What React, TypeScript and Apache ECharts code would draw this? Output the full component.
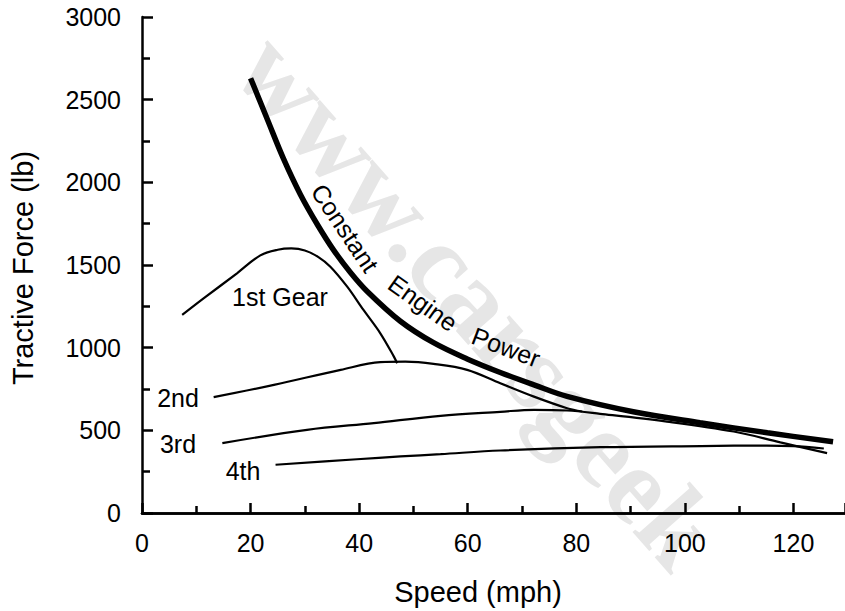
import React, { useEffect, useRef } from "react";
import * as echarts from "echarts";

// Constant engine power curve (mph, lb)
const powerSpeed = [20.0, 23.1, 26.1, 29.2, 32.3, 35.3, 38.4, 41.5, 47.6, 53.7, 59.9, 66.0, 72.2, 78.3, 90.5, 102.8, 115.2, 127.3];
const powerForce = [2630, 2380, 2140, 1925, 1745, 1590, 1455, 1340, 1160, 1030, 932, 850, 775, 705, 612, 546, 485, 431];

const gear1Speed = [7.4, 11.4, 17.5, 21.8, 25.0, 27.5, 30.0, 32.5, 34.7, 37.8, 40.8, 43.9, 46.4, 47.0];
const gear1Force = [1199, 1299, 1450, 1558, 1592, 1600, 1588, 1548, 1490, 1369, 1228, 1087, 946, 906];

const gear2Speed = [13.2, 24.3, 36.6, 43.9, 48.5, 53.7, 59.9, 66.0, 72.2, 78.3, 81.1];
const gear2Force = [701, 775, 866, 912, 915, 902, 866, 785, 704, 634, 614];

const gear3Speed = [14.8, 30.4, 42.7, 55.0, 66.0, 72.2, 78.3, 84.4, 96.7, 109.0, 117.6, 126.2];
const gear3Force = [423, 503, 544, 588, 612, 624, 620, 600, 553, 493, 427, 362];

const gear4Speed = [24.6, 39.6, 47.6, 55.0, 66.0, 84.5, 103.0, 115.1, 120.0, 125.6];
const gear4Force = [292, 325, 342, 356, 378, 398, 405, 408, 404, 390];

const FONT = "'Liberation Sans', Arial, Helvetica, sans-serif";

function pairs(xs: number[], ys: number[]) {
  return xs.map((x, i) => [x, ys[i]]);
}

function label(text: string, x: number, y: number, rotation = 0, size = 25) {
  return {
    type: "text",
    x,
    y,
    rotation,
    z: 100,
    style: {
      text,
      fill: "#000",
      font: `${size}px ${FONT}`,
      fontSize: size,
      fontFamily: FONT,
      align: "center",
      verticalAlign: "middle",
      textAlign: "center",
      textVerticalAlign: "middle",
    },
  };
}

const ls = () => ({ color: "#000", width: 2.5, type: "solid" });

export default function App() {
  const ref = useRef<HTMLDivElement>(null);

  useEffect(() => {
    if (!ref.current) return;
    const chart = echarts.init(ref.current, null, { renderer: "svg" });
    const lineSeries = (name: string, data: number[][], width: number) => ({
      name,
      type: "line",
      data,
      showSymbol: false,
      symbol: "none",
      smooth: 0.35,
      lineStyle: { color: "#000", width },
      z: 5,
    });
    chart.setOption({
      animation: false,
      backgroundColor: "#fff",
      grid: { left: 142, right: 0, top: 17, bottom: 98, containLabel: false },
      xAxis: [
        {
          type: "value",
          min: 0,
          max: 129.5,
          interval: 20,
          axisLine: { show: true, onZero: false, lineStyle: ls() },
          axisTick: { show: true, inside: true, length: 10, lineStyle: ls() },
          minorTick: { show: true, splitNumber: 2, length: 7, lineStyle: ls() },
          splitLine: { show: false },
          minorSplitLine: { show: false },
          axisLabel: { color: "#000", fontSize: 25, fontFamily: FONT, margin: 17 },
        },
        {
          type: "value",
          position: "top",
          min: 0,
          max: 129.5,
          axisLine: { show: true, lineStyle: ls() },
          axisTick: { show: false },
          axisLabel: { show: false },
          splitLine: { show: false },
        },
      ],
      yAxis: {
        type: "value",
        min: 0,
        max: 3000,
        interval: 500,
        axisLine: { show: true, lineStyle: ls() },
        axisTick: { show: true, inside: true, length: 11, lineStyle: ls() },
        minorTick: { show: true, splitNumber: 2, length: 8, lineStyle: ls() },
        splitLine: { show: false },
        minorSplitLine: { show: false },
        axisLabel: {
          color: "#000",
          fontSize: 25,
          fontFamily: FONT,
          margin: 21,
          formatter: (v: number) => String(v),
        },
      },
      graphic: [
        {
          type: "text",
          x: 478,
          y: 300,
          rotation: -0.85,
          z: 0,
          silent: true,
          style: {
            text: "www.carsgeek",
            fill: "#e6e6e6",
            font: `bold 110px 'Liberation Serif', serif`,
            fontSize: 110,
            fontWeight: "bold",
            fontFamily: "'Liberation Serif', serif",
            align: "center",
            verticalAlign: "middle",
            textAlign: "center",
            textVerticalAlign: "middle",
          },
        },
        label("Tractive Force (lb)", 23, 268, Math.PI / 2, 29),
        label("Speed (mph)", 478, 592, 0, 29),
        label("1st Gear", 280, 297),
        label("2nd", 178, 398),
        label("3rd", 178, 444),
        label("4th", 243, 471),
        label("Constant", 345, 228, -0.98),
        label("Engine", 423, 303, -0.62),
        label("Power", 506, 347, -0.36),
      ],
      series: [
        lineSeries("Constant Engine Power", pairs(powerSpeed, powerForce), 5.5),
        lineSeries("1st Gear", pairs(gear1Speed, gear1Force), 2.2),
        lineSeries("2nd", pairs(gear2Speed, gear2Force), 2.2),
        lineSeries("3rd", pairs(gear3Speed, gear3Force), 2.2),
        lineSeries("4th", pairs(gear4Speed, gear4Force), 2.2),
      ],
    });
    return () => chart.dispose();
  }, []);

  return (
    <div
      ref={ref}
      style={{ position: "fixed", left: 0, top: 0, width: 845, height: 611, background: "#fff" }}
    />
  );
}
